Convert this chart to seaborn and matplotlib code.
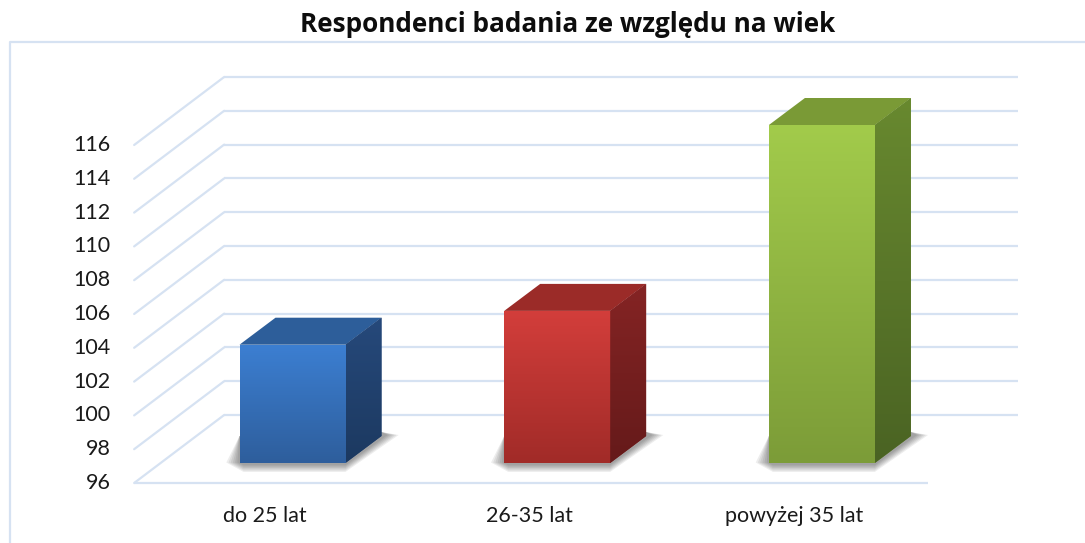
import numpy as np
import pandas as pd
import matplotlib
matplotlib.use('Agg')
import matplotlib.pyplot as plt
from matplotlib.patches import Polygon
from matplotlib.colors import LinearSegmentedColormap
from matplotlib.lines import Line2D
import seaborn as sns

# data
categories = ['do 25 lat', '26-35 lat', 'powyżej 35 lat']
values = [103, 105, 116]
y_ticks = [96, 98, 100, 102, 104, 106, 108, 110, 112, 114, 116]
title = 'Respondenci badania ze względu na wiek'

# colours (front top, front bottom, top face, side top, side bottom)
front_top = ['#3c7fd2', '#d33e3b', '#a2cb4b']
front_bottom = ['#2e5e9c', '#a12b28', '#7c9c38']
top_face = ['#2d5e9a', '#9b2b28', '#7a9a36']
side_top = ['#26497b', '#852424', '#68892f']
side_bottom = ['#1c3960', '#651a1a', '#4a6323']
grid_color = '#d6e2f2'

BASE = 96
# oblique depth offsets, in data units, relative to the bar front face
PX_X, PX_Y = 264.7, 16.9
DX_F, DY_F = -26 / PX_X, -20 / PX_Y     # floor front edge
DX_B, DY_B = 36 / PX_X, 27 / PX_Y       # bar back face
DX_W, DY_W = 64 / PX_X, 48 / PX_Y       # back wall

sns.set_theme(style='white')
plt.rcParams['font.family'] = ['Lato', 'DejaVu Sans']

fig = plt.figure(figsize=(10.85, 5.43), dpi=100)
W, H = 1085, 543
ax_l, ax_r, ax_t, ax_b = 100, 1030, 60, 530
ax = fig.add_axes([ax_l / W, 1 - ax_b / H, (ax_r - ax_l) / W, (ax_b - ax_t) / H])

df = pd.DataFrame({'wiek': categories, 'liczba': values})
sns.barplot(data=df, x='wiek', y='liczba', hue='wiek', palette=front_top,
            width=106 / PX_X, legend=False, ax=ax, zorder=3)


def gradient(clip, extent, c_top, c_bottom, zorder):
    cmap = LinearSegmentedColormap.from_list('g', [c_bottom, c_top])
    img = ax.imshow(np.linspace(0, 1, 256).reshape(-1, 1), cmap=cmap,
                    origin='lower', extent=extent, aspect='auto',
                    zorder=zorder, interpolation='bicubic')
    img.set_clip_path(clip)


# walls / gridlines
left, right = -0.5, len(categories) - 0.5
for v in y_ticks:
    ax.plot([left + DX_W, right + DX_W], [v + DY_W, v + DY_W],
            color=grid_color, lw=1.6, zorder=1, solid_capstyle='butt')
    ax.plot([left + DX_F, left + DX_W], [v + DY_F, v + DY_W],
            color=grid_color, lw=1.6, zorder=1)
    ax.text(-0.687, v + DY_F, str(v), ha='right', va='center',
            fontsize=15.5, color='#1a1a1a')
ax.plot([left + DX_F, right + DX_F], [BASE + DY_F, BASE + DY_F],
        color=grid_color, lw=1.6, zorder=1, solid_capstyle='butt')

# bars in 3d
patches = sorted(ax.patches, key=lambda p: p.get_x())
for i, (p, val) in enumerate(zip(patches, values)):
    x0, w = p.get_x(), p.get_width()
    p.set_y(BASE)
    p.set_height(val - BASE)
    p.set_edgecolor('none')
    p.set_linewidth(0)

    # soft shadow
    for k in range(6):
        e = (6 - k) * 2.2
        shadow = Polygon([
            (x0 - e / PX_X, BASE + 0.5 / PX_Y),
            (x0 + 4 / PX_X, BASE - (e * 0.6 + 1) / PX_Y),
            (x0 + w, BASE - (e * 0.6 + 1) / PX_Y),
            (x0 + w + DX_B + (e + 4) / PX_X, BASE + DY_B + 1 / PX_Y),
            (x0 + w + DX_B, BASE + DY_B + 4 / PX_Y),
            (x0, BASE + DY_B),
        ], closed=True, facecolor='#000000', edgecolor='none',
            alpha=0.07, zorder=2)
        ax.add_patch(shadow)

    gradient(p, [x0, x0 + w, BASE, val], front_top[i], front_bottom[i], 3.1)

    top = Polygon([(x0, val), (x0 + w, val), (x0 + w + DX_B, val + DY_B),
                   (x0 + DX_B, val + DY_B)], closed=True,
                  facecolor=top_face[i], edgecolor='none', zorder=3)
    ax.add_patch(top)

    side = Polygon([(x0 + w, BASE), (x0 + w, val),
                    (x0 + w + DX_B, val + DY_B), (x0 + w + DX_B, BASE + DY_B)],
                   closed=True, facecolor=side_top[i], edgecolor='none',
                   zorder=3)
    ax.add_patch(side)
    gradient(side, [x0 + w, x0 + w + DX_B, BASE, val + DY_B],
             side_top[i], side_bottom[i], 3.1)

    ax.text(i + DX_F - 2 / PX_X, BASE - 53 / PX_Y, categories[i],
            ha='center', va='center', fontsize=15.5, color='#1a1a1a')

x_min = (ax_l - 292.5) / PX_X
x_max = (ax_r - 292.5) / PX_X
y_max = BASE + (463 - ax_t) / PX_Y
y_min = BASE - (ax_b - 463) / PX_Y
ax.set_xlim(x_min, x_max)
ax.set_ylim(y_min, y_max)
ax.set_axis_off()

# chart border (only top and left visible)
fig.add_artist(Line2D([10 / W, 10 / W, 1], [0, 1 - 42 / H, 1 - 42 / H],
                      color=grid_color, lw=1.6, transform=fig.transFigure))

fig.text(568 / W, 1 - 25 / H, title, ha='center', va='center',
         fontsize=18.8, fontweight='bold', color='#0d0d0d',
         family=['Open Sans', 'DejaVu Sans'])

fig.savefig('out.png', dpi=100)
